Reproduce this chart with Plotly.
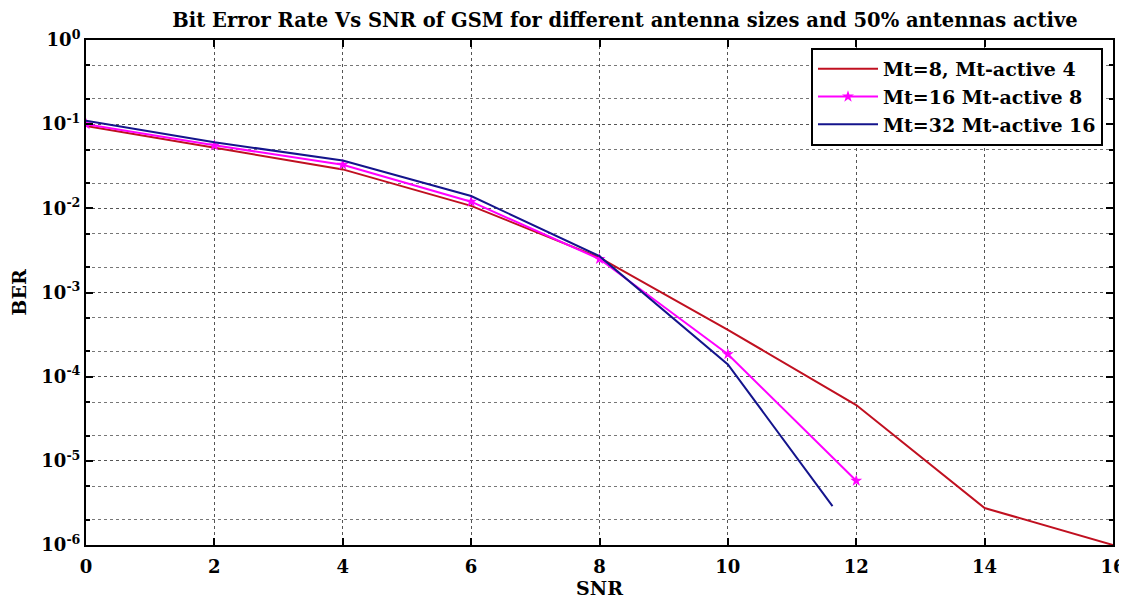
import plotly.graph_objects as go

snr_red = [0, 2, 4, 6, 8, 10, 12, 14, 16]
ber_red = [0.095, 0.052, 0.029, 0.0107, 0.0026, 3.6e-4, 4.6e-5, 2.75e-6, 1.0e-6]

snr_mag = [0, 2, 4, 6, 8, 10, 12]
ber_mag = [0.1, 0.056, 0.033, 0.012, 0.0025, 1.85e-4, 5.8e-6]

snr_blue = [0, 2, 4, 6, 8, 10, 11.63]
ber_blue = [0.11, 0.061, 0.037, 0.014, 0.0027, 1.4e-4, 2.9e-6]

names = ["Mt=8, Mt-active 4", "Mt=16 Mt-active 8", "Mt=32 Mt-active 16"]
x_ticks = [0, 2, 4, 6, 8, 10, 12, 14, 16]
y_tickvals = [1e-6, 1e-5, 1e-4, 1e-3, 1e-2, 1e-1, 1e0]
y_ticktext = ["10<sup>-6</sup>", "10<sup>-5</sup>", "10<sup>-4</sup>", "10<sup>-3</sup>",
              "10<sup>-2</sup>", "10<sup>-1</sup>", "10<sup>0</sup>"]

fig = go.Figure()
fig.add_trace(go.Scatter(x=snr_red, y=ber_red, mode="lines", name=names[0],
                         line=dict(color="#c01020", width=2)))
fig.add_trace(go.Scatter(x=snr_mag, y=ber_mag, mode="lines+markers", name=names[1],
                         line=dict(color="#ff00ff", width=2),
                         marker=dict(symbol="star", size=9, color="#ff00ff")))
fig.add_trace(go.Scatter(x=snr_blue, y=ber_blue, mode="lines", name=names[2],
                         line=dict(color="#14148c", width=2)))

ff = "DejaVu Serif"
W, H = 1119, 593  # page body adds an 8px offset

fig.update_layout(
    width=W, height=H,
    paper_bgcolor="white", plot_bgcolor="white",
    margin=dict(l=78, r=14, t=32, b=56),
    title=dict(text="Bit Error Rate Vs SNR of GSM for different antenna sizes and 50% antennas active",
               x=(625 - 8) / W, xanchor="center", y=1 - 12.5 / H, yanchor="middle",
               font=dict(family=ff, size=19.5, color="black", weight="bold")),
    font=dict(family=ff, color="black"),
    showlegend=True,
    legend=dict(x=(1103 - 86) / 1027, y=1 - (48 - 40) / 505, xanchor="right", yanchor="top",
                bgcolor="white", bordercolor="black", borderwidth=2,
                font=dict(family=ff, size=19, color="black", weight="bold"),
                itemwidth=60, tracegroupgap=0),
    xaxis=dict(range=[0, 16], tickvals=x_ticks, ticks="inside", ticklen=7, tickwidth=2,
               tickcolor="black", showline=True, linecolor="black", linewidth=2, mirror="ticks",
               showgrid=True, gridcolor="#555555", griddash="dot", gridwidth=1,
               zeroline=False, automargin=False, ticklabelstandoff=4,
               ticklabeloverflow="allow",
               title=dict(text="SNR", font=dict(family=ff, size=19, weight="bold"), standoff=6),
               tickfont=dict(family=ff, size=18, color="black", weight="bold")),
    yaxis=dict(type="log", range=[-6, 0], tickvals=y_tickvals, ticktext=y_ticktext,
               ticks="inside", ticklen=7, tickwidth=2, tickcolor="black",
               showline=True, linecolor="black", linewidth=2, mirror="ticks",
               showgrid=True, gridcolor="#555555", griddash="dot", gridwidth=1,
               zeroline=False, automargin=False, ticklabeloverflow="allow",
               minor=dict(ticks="inside", ticklen=4, tickwidth=2, tickcolor="black",
                          showgrid=True, gridcolor="#777777", griddash="dot", gridwidth=1),
               title=dict(text="BER", font=dict(family=ff, size=19, weight="bold"), standoff=12),
               tickfont=dict(family=ff, size=18, color="black", weight="bold")),
)

fig.write_html("out.html")
